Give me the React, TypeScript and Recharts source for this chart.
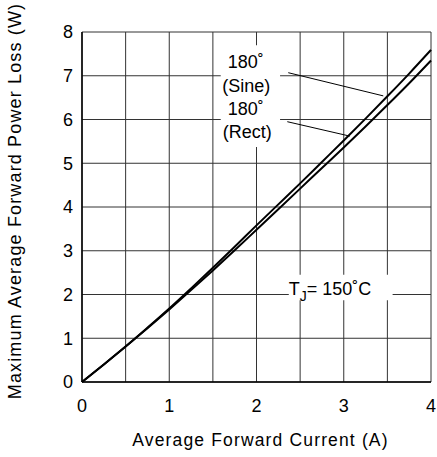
import React from 'react';
import {
  LineChart,
  Line,
  XAxis,
  YAxis,
  CartesianGrid,
  ReferenceArea,
  ReferenceLine,
} from 'recharts';

const current = [0, 0.25, 0.5, 0.75, 1, 1.25, 1.5, 1.75, 2, 2.25, 2.5, 2.75, 3, 3.25, 3.5, 3.75, 4];
const sineLoss = [0, 0.4, 0.81, 1.24, 1.68, 2.14, 2.61, 3.09, 3.58, 4.06, 4.54, 5.03, 5.52, 6.02, 6.53, 7.05, 7.59];
const rectLoss = [0, 0.4, 0.81, 1.23, 1.66, 2.1, 2.55, 3.01, 3.48, 3.95, 4.42, 4.89, 5.36, 5.84, 6.33, 6.83, 7.35];

const xTicks = [0, 0.5, 1, 1.5, 2, 2.5, 3, 3.5, 4];
const yTicks = [0, 1, 2, 3, 4, 5, 6, 7, 8];

const data = current.map((c, i) => ({ current: c, sine: sineLoss[i], rect: rectLoss[i] }));

const FONT = '"Liberation Sans", Arial, Helvetica, sans-serif';

const CurveLabels = (props: any) => {
  const { viewBox } = props;
  if (!viewBox) return null;
  const { x, y } = viewBox;
  const style = { fontFamily: FONT, fontSize: 18, fill: '#000' } as any;
  return (
    <g>
      <text x={x + 25} y={y + 23} textAnchor="middle" style={style}>180˚</text>
      <text x={x + 25.5} y={y + 47} textAnchor="middle" style={style}>(Sine)</text>
      <text x={x + 25} y={y + 70} textAnchor="middle" style={style}>180˚</text>
      <text x={x + 26.5} y={y + 93} textAnchor="middle" style={style}>(Rect)</text>
    </g>
  );
};

const TjLabel = (props: any) => {
  const { viewBox } = props;
  if (!viewBox) return null;
  const { x, y } = viewBox;
  return (
    <text x={x} y={y + 20} textAnchor="start" style={{ fontFamily: FONT, fontSize: 18, fill: '#000' }}>
      T
      <tspan dy={6} fontSize={14}>J</tspan>
      <tspan dy={-6}>= 150˚C</tspan>
    </text>
  );
};

const YLabel = (props: any) => {
  const { viewBox } = props;
  if (!viewBox) return null;
  const cx = viewBox.x + 15;
  const cy = viewBox.y + viewBox.height / 2 - 6;
  return (
    <text
      x={cx}
      y={cy}
      transform={`rotate(-90 ${cx} ${cy})`}
      textAnchor="middle"
      dominantBaseline="central"
      style={{ fontFamily: FONT, fontSize: 18, letterSpacing: 1.15, fill: '#000' }}
    >
      Maximum Average Forward Power Loss (W)
    </text>
  );
};

const XLabel = (props: any) => {
  const { viewBox } = props;
  if (!viewBox) return null;
  const cx = viewBox.x + viewBox.width / 2 + 4;
  return (
    <text
      x={cx}
      y={viewBox.y + 64}
      textAnchor="middle"
      style={{ fontFamily: FONT, fontSize: 17.5, letterSpacing: 1.15, fill: '#000' }}
    >
      Average Forward Current (A)
    </text>
  );
};

export default function App() {
  return (
    <div style={{ position: 'absolute', left: 0, top: 0, width: 437, height: 457, background: '#fff' }}>
      <LineChart
        width={437}
        height={457}
        data={data}
        margin={{ top: 32, right: 6, left: 0, bottom: 0 }}
      >
        <CartesianGrid stroke="#333" strokeWidth={1} />
        <XAxis
          dataKey="current"
          type="number"
          domain={[0, 4]}
          ticks={xTicks}
          tickFormatter={(v: number) => (Number.isInteger(v) ? String(v) : '')}
          interval={0}
          height={75}
          tickLine={false}
          tickSize={0}
          tickMargin={17}
          axisLine={{ stroke: '#000', strokeWidth: 1.5 }}
          tick={{ fill: '#000', fontSize: 18, fontFamily: FONT }}
          label={<XLabel />}
        />
        <YAxis
          type="number"
          domain={[0, 8]}
          ticks={yTicks}
          interval={0}
          width={82}
          tickLine={false}
          tickSize={0}
          tickMargin={9}
          axisLine={{ stroke: '#000', strokeWidth: 1.5 }}
          tick={{ fill: '#000', fontSize: 18, fontFamily: FONT }}
          label={<YLabel />}
        />
        <ReferenceArea
          x1={1.59}
          x2={2.27}
          y1={5.37}
          y2={7.7}
          fill="#fff"
          fillOpacity={1}
          stroke="none"
          ifOverflow="visible"
          label={<CurveLabels />}
        />
        <ReferenceArea
          x1={2.37}
          x2={3.56}
          y1={1.87}
          y2={2.45}
          fill="#fff"
          fillOpacity={1}
          stroke="none"
          ifOverflow="visible"
          label={<TjLabel />}
        />
        <ReferenceLine
          segment={[{ x: 2.364, y: 7.07 }, { x: 3.453, y: 6.54 }]}
          stroke="#000"
          strokeWidth={1}
          ifOverflow="visible"
        />
        <ReferenceLine
          segment={[{ x: 2.353, y: 5.95 }, { x: 3.07, y: 5.62 }]}
          stroke="#000"
          strokeWidth={1}
          ifOverflow="visible"
        />
        <Line
          type="monotone"
          dataKey="sine"
          stroke="#000"
          strokeWidth={2}
          dot={false}
          isAnimationActive={false}
        />
        <Line
          type="monotone"
          dataKey="rect"
          stroke="#000"
          strokeWidth={2}
          dot={false}
          isAnimationActive={false}
        />
      </LineChart>
    </div>
  );
}
